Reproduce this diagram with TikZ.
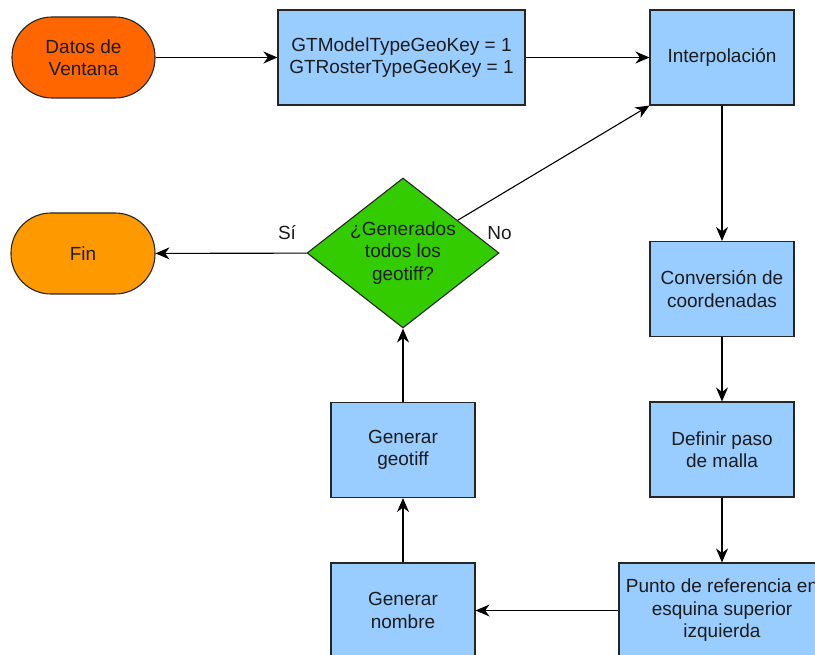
\documentclass[tikz,border=0pt]{standalone}
\usepackage{fontspec}
\setmainfont{Liberation Sans}
\usepackage{xcolor}
\usepackage{tikz}
\usetikzlibrary{shapes,arrows.meta,positioning}

\definecolor{boxblue}{HTML}{99CCFF}
\definecolor{startorange}{HTML}{FF6600}
\definecolor{endorange}{HTML}{FF9900}
\definecolor{decgreen}{HTML}{33CC00}
\definecolor{linedark}{HTML}{262626}
\definecolor{txtdark}{HTML}{1C1C1C}

\begin{document}
\begin{tikzpicture}[x=1pt, y=-1pt, every node/.style={font=\fontsize{19}{22.5}\selectfont, text=txtdark}]
  \tikzstyle{block} = [rectangle, draw=linedark, line width=1.1pt, fill=boxblue, align=center, minimum width=144pt, minimum height=95pt]
  \tikzstyle{terminal} = [rectangle, draw=linedark, line width=1.1pt, rounded corners=40pt, align=center, minimum width=143pt, minimum height=81pt]
  \tikzstyle{decision} = [diamond, draw=linedark, line width=1.1pt, fill=decgreen, aspect=1.28, inner sep=-4pt, align=center, minimum width=192pt, minimum height=150pt]
  \tikzstyle{line} = [draw=black, line width=1.1pt, -{Stealth[length=14pt,width=12pt,inset=4.5pt]}]

  \clip (0,0) rectangle (815,655);
  \fill[white] (0,0) rectangle (815,655);

  % Top row
  \node[terminal, fill=startorange] (datos) at (83.5,57.5) {Datos de\\Ventana};
  \node[block, minimum width=247pt] (geokey) at (401.5,57.5) {GTModelTypeGeoKey = 1\\GTRosterTypeGeoKey = 1};
  \node[block] (interp) at (722,57.5) {Interpolación};

  % Right column
  \node[block] (conv) at (722,289) {Conversión de\\coordenadas};
  \node[block] (paso) at (722,449.5) {Definir paso\\de malla};
  \node[block, minimum width=206pt] (punto) at (722,610.5) {Punto de referencia en\\esquina superior\\izquierda};

  % Left column
  \node[block] (nombre) at (403,610.5) {Generar\\nombre};
  \node[block] (geotiff) at (403,450) {Generar\\geotiff};
  \node[decision] (dec) at (403,253) {¿Generados\\todos los\\geotiff?};
  \node[terminal, fill=endorange, minimum width=144pt] (fin) at (83,253.5) {Fin};
  \node[above=10pt] (nolbl) at (dec.east) {No};

  % Connections
  \draw[line] (datos) -- (geokey);
  \draw[line] (geokey) -- (interp);
  \draw[line] (interp) -- (conv);
  \draw[line] (conv) -- (paso);
  \draw[line] (paso) -- (punto);
  \draw[line] (punto) -- (nombre);
  \draw[line] (nombre) -- (geotiff);
  \draw[line] (geotiff) -- (dec);
  \draw[line] (dec) -- node[pos=0.13, above=10pt] {Sí} (fin);
  \draw[line] (dec) -- (interp.south west);
\end{tikzpicture}
\end{document}
